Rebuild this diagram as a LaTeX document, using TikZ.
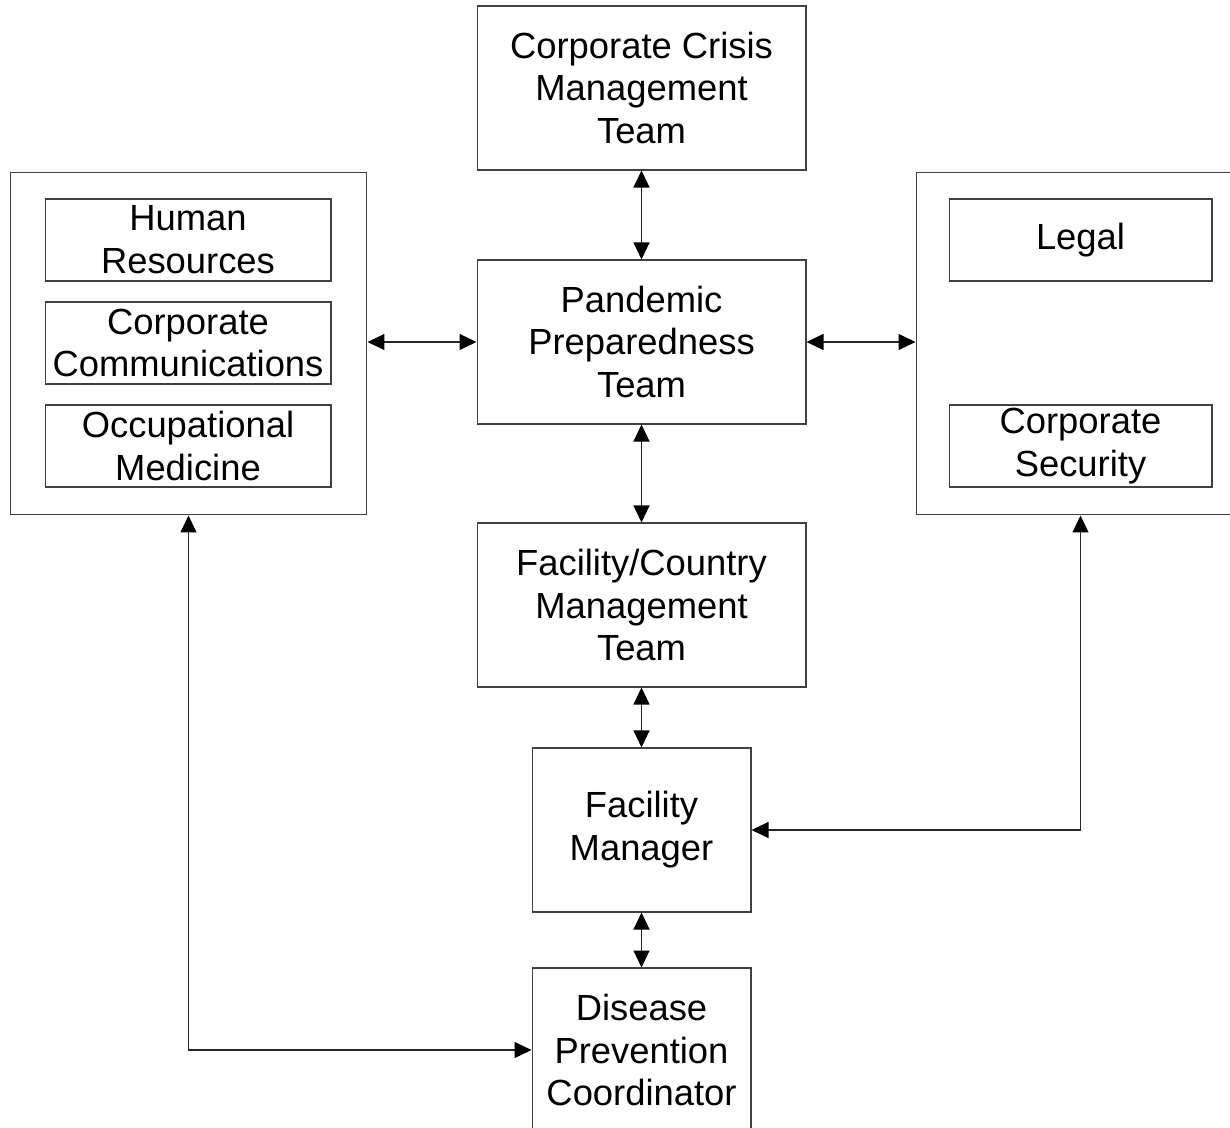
\documentclass[tikz,border=0pt]{standalone}
\usepackage{fontspec}
\setmainfont{Liberation Sans}
\usetikzlibrary{arrows.meta}

\begin{document}
\begin{tikzpicture}[x=0.02cm, y=-0.02cm,
    box/.style={draw=black!75, line width=0.6pt, align=center, inner sep=0pt,
        font=\fontsize{20.7pt}{24.4pt}\selectfont},
    team/.style={box, minimum width=6.58cm, minimum height=3.28cm},
    post/.style={box, minimum width=4.38cm, minimum height=3.28cm},
    group/.style={box, minimum width=7.14cm, minimum height=6.86cm},
    unit/.style={box, minimum width=5.72cm, minimum height=1.64cm},
    link/.style={line width=0.6pt, draw=black!85,
        {Triangle[length=3.4mm,width=3.2mm,color=black]}-{Triangle[length=3.4mm,width=3.2mm,color=black]}}
]

    \clip (0,0) rectangle (1230,1128);

    % -------------------------
    % Central chain
    % -------------------------
    \node[team] (crisis) at (641.5,88)  {Corporate Crisis\\Management\\Team};
    \node[team] (ppt)    at (641.5,342) {Pandemic\\Preparedness\\Team};
    \node[team] (fcm)    at (641.5,605) {Facility/Country\\Management\\Team};
    \node[post] (fm)     at (641.5,830) {Facility\\Manager};
    \node[post] (dpc)    at (641.5,1050) {Disease\\Prevention\\Coordinator};

    % -------------------------
    % Left group
    % -------------------------
    \node[group] (left) at (188.5,343.5) {};
    \node[unit] (hr) at (188,240) {Human\\Resources};
    \node[unit] (cc) at (188,343) {Corporate\\Communications};
    \node[unit] (om) at (188,446) {Occupational\\Medicine};

    % -------------------------
    % Right group (runs off the page)
    % -------------------------
    \node[box, minimum width=6.62cm, minimum height=6.86cm] (right) at (1081.5,343.5) {};
    \node[unit, minimum width=5.26cm] (legal) at (1080.5,240) {Legal};
    \node[unit, minimum width=5.26cm] (sec)   at (1080.5,446) {Corporate\\Security};

    % -------------------------
    % Connectors
    % -------------------------
    \draw[link] (crisis) -- (ppt);
    \draw[link] (left.east |- ppt) -- (ppt);
    \draw[link] (ppt) -- (right.west |- ppt);
    \draw[link] (ppt) -- (fcm);
    \draw[link] (fcm) -- (fm);
    \draw[link] (fm) -- (dpc);
    \draw[link] (left.south) |- (dpc.west);
    \draw[link] (right.south -| legal) |- (fm.east);

\end{tikzpicture}
\end{document}
